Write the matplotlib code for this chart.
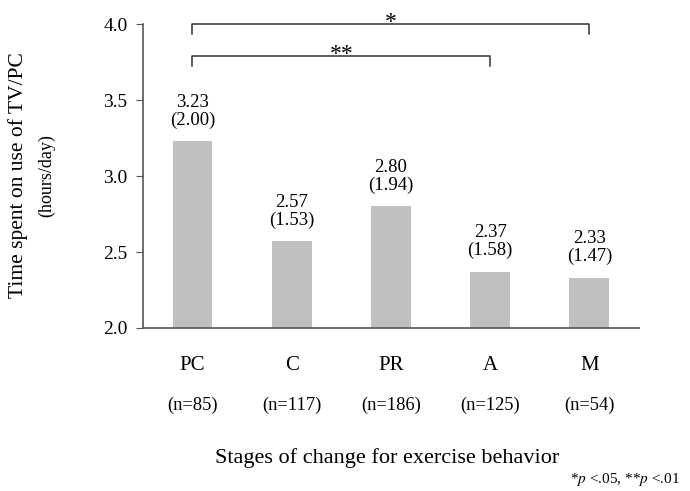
import numpy as np
import matplotlib
matplotlib.use("Agg")
import matplotlib.pyplot as plt
import matplotlib.transforms as mtransforms

plt.rcParams["font.family"] = ["Liberation Serif", "DejaVu Serif"]
plt.rcParams["mathtext.fontset"] = "stix"

# Stages of change and their mean (SD) TV/PC time
STAGES = ["PC", "C", "PR", "A", "M"]
MEANS = [3.23, 2.57, 2.80, 2.37, 2.33]
SDS = [2.00, 1.53, 1.94, 1.58, 1.47]
N_LST = [85, 117, 186, 125, 54]

# Significance brackets: (start idx, end idx, height, label)
SIG_LST = [(0, 4, 4.0, "*"), (0, 3, 3.79, "**")]

BAR_CLR = "#c0c0c0"
AX_CLR = "#555555"


def main():
    fig = plt.figure(figsize=(6.9, 4.91), dpi=100)
    ax = fig.add_axes([0.207, 0.332, 0.719, 0.619])

    x = np.arange(len(STAGES))
    ax.bar(x, MEANS, width=0.4, color=BAR_CLR, bottom=0, zorder=2)

    # mean and (SD) above each bar
    for xi, m, s in zip(x, MEANS, SDS):
        ax.annotate(f"{m:.2f}\n({s:.2f})", (xi, m), xytext=(0, 9),
                    textcoords="offset points", ha="center", va="bottom",
                    fontsize=13.5, linespacing=1.05)

    # significance brackets
    for i0, i1, h, lab in SIG_LST:
        ax.plot([x[i0], x[i0], x[i1], x[i1]], [h - 0.065, h, h, h - 0.065],
                color="#333333", lw=1.1, clip_on=False, zorder=3)
        ax.text((x[i0] + x[i1]) / 2, h - 0.06, lab, ha="center", va="bottom",
                fontsize=17)

    ax.set_xlim(-0.5, 4.5)
    ax.set_ylim(2.0, 4.0)
    ax.set_yticks([2.0, 2.5, 3.0, 3.5, 4.0])
    ax.set_yticklabels([f"{v:.1f}" for v in [2.0, 2.5, 3.0, 3.5, 4.0]])
    ax.tick_params(axis="y", labelsize=14, length=5, color=AX_CLR, pad=6)

    ax.set_xticks(x)
    ax.set_xticklabels(STAGES)
    ax.tick_params(axis="x", length=0, labelsize=15, pad=20)

    trans = mtransforms.blended_transform_factory(ax.transData, fig.transFigure)
    for xi, n in zip(x, N_LST):
        ax.text(xi, 1 - 405 / 491, f"(n={n})", transform=trans,
                ha="center", va="center", fontsize=13.3)

    for side in ["top", "right"]:
        ax.spines[side].set_visible(False)
    for side in ["left", "bottom"]:
        ax.spines[side].set_color(AX_CLR)
        ax.spines[side].set_linewidth(1.2)

    fig.text(0.026, 0.643, "Time spent on use of TV/PC", rotation=90,
             ha="center", va="center", fontsize=15.5)
    fig.text(0.068, 0.643, "(hours/day)", rotation=90,
             ha="center", va="center", fontsize=13)
    fig.text(0.561, 1 - 458 / 491, "Stages of change for exercise behavior",
             ha="center", va="center", fontsize=16)
    fig.text(0.986, 1 - 479 / 491, r"*$p$ <.05, **$p$ <.01",
             ha="right", va="center", fontsize=11)

    fig.savefig("out.png", dpi=100)


if __name__ == "__main__":
    main()
